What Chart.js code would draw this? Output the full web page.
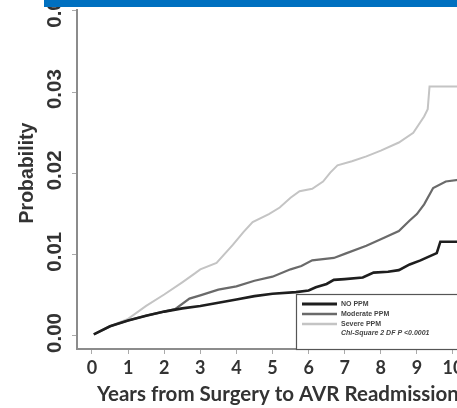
<!DOCTYPE html>
<html>
<head>
<meta charset="utf-8">
<script src="https://cdn.jsdelivr.net/npm/chart.js@4"></script>
<style>
  html, body { margin: 0; padding: 0; background: #fff; overflow: hidden; }
  #wrap { position: absolute; left: 0; top: 0; width: 520px; height: 408px; }
  #bar { position: absolute; left: 44px; top: 0; width: 413px; height: 7px; background: #0070C0; z-index: 2; }
</style>
</head>
<body>
<div id="wrap"><canvas id="kmChart" width="520" height="408"></canvas></div>
<div id="bar"></div>
<script>
// Datos (anos desde la cirugia, probabilidad acumulada)
const noPpmYears = [0.05, 0.5, 1, 1.5, 2, 2.5, 3, 3.5, 4, 4.5, 5, 5.65, 6.0, 6.2, 6.5, 6.7, 7.0, 7.5, 7.8, 8.2, 8.5, 8.8, 9.1, 9.3, 9.55, 9.65, 10.3];
const noPpmProb  = [0.0002, 0.0012, 0.0019, 0.0025, 0.0030, 0.0034, 0.0037, 0.0041, 0.0045, 0.0049, 0.0052, 0.0054, 0.0056, 0.0060, 0.0064, 0.0069, 0.0070, 0.0072, 0.0078, 0.0079, 0.0081, 0.0088, 0.0093, 0.0097, 0.0102, 0.0116, 0.0116];

const moderateYears = [0.05, 0.5, 1, 1.5, 2, 2.3, 2.7, 3, 3.5, 4, 4.5, 5, 5.5, 5.8, 6.1, 6.7, 7.0, 7.6, 8.0, 8.5, 8.8, 9.0, 9.2, 9.45, 9.8, 10.3];
const moderateProb  = [0.0002, 0.0012, 0.0019, 0.0025, 0.0030, 0.0033, 0.0046, 0.0050, 0.0057, 0.0061, 0.0068, 0.0073, 0.0082, 0.0086, 0.0093, 0.0096, 0.0101, 0.0111, 0.0119, 0.0129, 0.0142, 0.0150, 0.0162, 0.0182, 0.0190, 0.0193];

const severeYears = [0.05, 0.5, 1, 1.5, 2, 2.5, 2.85, 3, 3.45, 3.9, 4.2, 4.45, 4.9, 5.2, 5.5, 5.75, 6.1, 6.4, 6.6, 6.8, 7.2, 7.6, 8.0, 8.5, 8.9, 9.2, 9.3, 9.35, 10.3];
const severeProb  = [0.0002, 0.0012, 0.0021, 0.0037, 0.0051, 0.0066, 0.0077, 0.0082, 0.0090, 0.0112, 0.0128, 0.0140, 0.0150, 0.0158, 0.0170, 0.0178, 0.0181, 0.0190, 0.0201, 0.0210, 0.0215, 0.0221, 0.0228, 0.0238, 0.0250, 0.0270, 0.0279, 0.0307, 0.0307];

const xTicks = [0, 1, 2, 3, 4, 5, 6, 7, 8, 9, 10];
const yTicks = [0.00, 0.01, 0.02, 0.03, 0.04];
const legendLabels = ["NO PPM", "Moderate PPM", "Severe PPM"];
const legendNote = "Chi-Square 2 DF P <0.0001";

function toPoints(xs, ys) {
    return xs.map((x, i) => ({ x: x, y: ys[i] }));
}

const lineColors = ["#1e1e1e", "#6a6a6a", "#c4c4c4"];
const lineWidths = [2.6, 2.2, 2];

// Textos dibujados a mano: etiquetas del eje Y giradas, titulos y leyenda
const annotations = {
    id: "annotations",
    afterDatasetsDraw(chart) {
        const ctx = chart.ctx;
        const yScale = chart.scales.y;
        ctx.save();
        ctx.fillStyle = "#333";

        ctx.font = "bold 20.5px 'Liberation Sans', Arial, sans-serif";
        ctx.textAlign = "center";
        ctx.textBaseline = "middle";
        yScale.ticks.forEach(t => {
            const py = yScale.getPixelForValue(t.value) - 3;
            ctx.save();
            ctx.translate(55.5, py);
            ctx.rotate(-Math.PI / 2);
            ctx.fillText(t.value.toFixed(2), 0, 0);
            ctx.restore();
        });

        ctx.font = "bold 19.5px 'Liberation Sans', Arial, sans-serif";
        ctx.save();
        ctx.translate(28, 173);
        ctx.rotate(-Math.PI / 2);
        ctx.fillText("Probability", 0, 0);
        ctx.restore();

        ctx.font = "bold 20.5px Lato, 'Open Sans', sans-serif";
        ctx.textAlign = "left";
        ctx.textBaseline = "alphabetic";
        ctx.fillText("Years from Surgery to AVR Readmission", 97, 401);

        // caja de la leyenda
        const bx = 296, by = 294, bottom = chart.chartArea.bottom;
        ctx.fillStyle = "#fff";
        ctx.fillRect(bx, by, chart.width - bx, bottom - by);
        ctx.strokeStyle = "#555";
        ctx.lineWidth = 1.2;
        ctx.strokeRect(bx + 0.5, by + 0.5, chart.width, bottom - by);

        const rows = [304, 314, 324, 333];
        ctx.font = "bold 7px 'Liberation Sans', Arial, sans-serif";
        ctx.textBaseline = "middle";
        legendLabels.forEach((label, i) => {
            ctx.strokeStyle = lineColors[i];
            ctx.lineWidth = lineWidths[i] + 0.4;
            ctx.beginPath();
            ctx.moveTo(302, rows[i]);
            ctx.lineTo(337, rows[i]);
            ctx.stroke();
            ctx.fillStyle = "#444";
            ctx.fillText(label, 341, rows[i]);
        });
        ctx.font = "italic bold 7px 'Liberation Sans', Arial, sans-serif";
        ctx.fillText(legendNote, 341, rows[3]);
        ctx.restore();
    }
};

new Chart(document.getElementById("kmChart"), {
    type: "line",
    data: {
        datasets: [
            { label: legendLabels[0], data: toPoints(noPpmYears, noPpmProb), borderColor: lineColors[0], borderWidth: lineWidths[0] },
            { label: legendLabels[1], data: toPoints(moderateYears, moderateProb), borderColor: lineColors[1], borderWidth: lineWidths[1] },
            { label: legendLabels[2], data: toPoints(severeYears, severeProb), borderColor: lineColors[2], borderWidth: lineWidths[2] }
        ]
    },
    options: {
        responsive: false,
        animation: false,
        devicePixelRatio: 1,
        layout: { padding: { top: 10, right: 13, left: 0, bottom: 0 } },
        elements: { point: { radius: 0 }, line: { tension: 0 } },
        plugins: { legend: { display: false }, tooltip: { enabled: false } },
        scales: {
            x: {
                type: "linear",
                min: -0.4155,
                max: 11.496,
                afterBuildTicks: s => { s.ticks = xTicks.map(v => ({ value: v })); },
                afterFit: s => { s.height = 59; },
                grid: { drawOnChartArea: false, drawTicks: true, tickLength: 5, tickColor: "#aaa" },
                border: { color: "#8c8c8c", width: 2 },
                ticks: { color: "#333", padding: 3, maxRotation: 0, font: { family: "Lato", weight: "bold", size: 18 } }
            },
            y: {
                min: -0.0016,
                max: 0.0401,
                afterBuildTicks: s => { s.ticks = yTicks.map(v => ({ value: v })); },
                afterFit: s => { s.width = 77; },
                grid: { drawOnChartArea: false, drawTicks: true, tickLength: 5, tickColor: "#aaa" },
                border: { color: "#8c8c8c", width: 2 },
                ticks: { display: false }
            }
        }
    },
    plugins: [annotations]
});
</script>
</body>
</html>
